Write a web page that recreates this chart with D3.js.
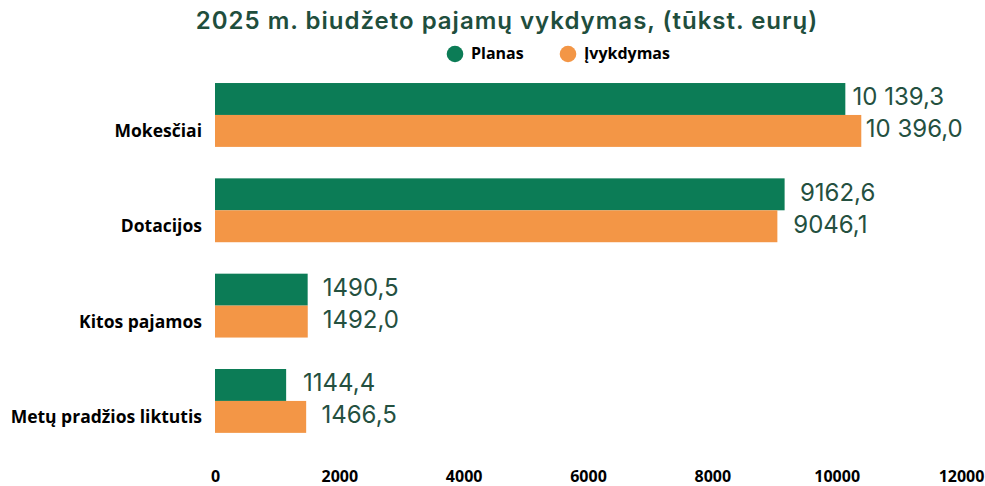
<!DOCTYPE html>
<html>
<head>
<meta charset="utf-8">
<script src="https://cdn.jsdelivr.net/npm/d3@7"></script>
<style>
  body { margin: 0; background: #fff; }
  svg { display: block; }
</style>
</head>
<body>
<div class="canvas"></div>
<script>
// chart data
const categories = ['Mokesčiai', 'Dotacijos', 'Kitos pajamos', 'Metų pradžios liktutis'];
const seriesNames = ['Planas', 'Įvykdymas'];
const planas = [10139.3, 9162.6, 1490.5, 1144.4];
const ivykdymas = [10396.0, 9046.1, 1492.0, 1466.5];
const xTicks = [0, 2000, 4000, 6000, 8000, 10000, 12000];

const dims = { width: 985, height: 486 };
const colors = ['#0c7c56', '#f39646'];
const labelColor = '#24503f';

const svg = d3.select('.canvas')
    .append('svg')
    .attr('width', dims.width)
    .attr('height', dims.height);

// title
svg.append('text')
    .attr('x', 507)
    .attr('y', 29)
    .attr('text-anchor', 'middle')
    .attr('font-family', 'Inter, sans-serif')
    .attr('font-weight', 600)
    .attr('font-size', '24px')
    .attr('letter-spacing', '1px')
    .attr('fill', '#1f4e3d')
    .text('2025 m. biudžeto pajamų vykdymas, (tūkst. eurų)');

// legend
const legendX = [455, 568];
const legend = svg.selectAll('.legend')
    .data(seriesNames)
    .enter()
    .append('g')
    .attr('class', 'legend')
    .attr('transform', (d, i) => `translate(${legendX[i]},54)`);

legend.append('circle')
    .attr('r', 8.3)
    .attr('fill', (d, i) => colors[i]);

legend.append('text')
    .attr('x', 16)
    .attr('y', 4.5)
    .attr('font-family', '"Open Sans", sans-serif')
    .attr('font-weight', 700)
    .attr('font-size', '16px')
    .attr('fill', '#000')
    .text(d => d);

// scales
const x = d3.scaleLinear()
    .domain([0, 12000])
    .range([215, 961]);

const y = d3.scaleBand()
    .domain(categories)
    .range([67.3, 448.6])
    .paddingInner(0.33)
    .paddingOuter(0.165);

const ySub = d3.scaleBand()
    .domain(seriesNames)
    .range([0, y.bandwidth()]);

// rows of data, one per category
const rows = categories.map((c, i) => ({
    name: c,
    values: [
        { series: seriesNames[0], value: planas[i] },
        { series: seriesNames[1], value: ivykdymas[i] }
    ]
}));

const groups = svg.selectAll('.group')
    .data(rows)
    .enter()
    .append('g')
    .attr('class', 'group')
    .attr('transform', d => `translate(0,${y(d.name)})`);

groups.selectAll('rect')
    .data(d => d.values)
    .enter()
    .append('rect')
    .attr('x', x(0))
    .attr('y', d => ySub(d.series))
    .attr('width', d => x(d.value) - x(0))
    .attr('height', ySub.bandwidth())
    .attr('fill', (d, i) => colors[i]);

// value labels, lithuanian number format
const fmt = v => {
    const s = v.toFixed(1).replace('.', ',');
    return v >= 10000 ? s.replace(/^(\d+)(\d{3}),/, '$1 $2,') : s;
};

groups.selectAll('.val')
    .data(d => d.values)
    .enter()
    .append('text')
    .attr('class', 'val')
    .attr('x', d => x(d.value) + 53)
    .attr('y', d => ySub(d.series) + ySub.bandwidth() / 2 - 2)
    .attr('text-anchor', 'middle')
    .attr('dominant-baseline', 'central')
    .attr('font-family', 'Inter, sans-serif')
    .attr('font-weight', 400)
    .attr('font-size', '24px')
    .attr('fill', labelColor)
    .text(d => fmt(d.value));

// category labels, next to the second bar
svg.selectAll('.cat')
    .data(categories)
    .enter()
    .append('text')
    .attr('class', 'cat')
    .attr('x', 202)
    .attr('y', d => y(d) + ySub(seriesNames[1]) + ySub.bandwidth() / 2 + 6)
    .attr('text-anchor', 'end')
    .attr('font-family', '"Open Sans", sans-serif')
    .attr('font-weight', 700)
    .attr('font-size', '17.5px')
    .attr('fill', '#000')
    .text(d => d);

// x axis
const xAxis = d3.axisBottom(x)
    .tickValues(xTicks)
    .tickSize(0)
    .tickFormat(d3.format('d'));

const axisG = svg.append('g')
    .attr('transform', 'translate(0,466)')
    .call(xAxis);

axisG.select('.domain').remove();
axisG.selectAll('text')
    .attr('dy', 0)
    .attr('y', 16)
    .attr('font-family', '"Open Sans", sans-serif')
    .attr('font-weight', 700)
    .attr('font-size', '16px')
    .attr('fill', '#000');
</script>
</body>
</html>
